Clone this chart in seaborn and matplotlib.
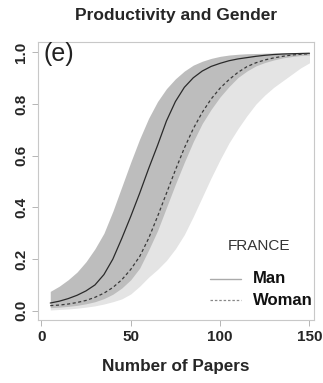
import numpy as np
import pandas as pd
import matplotlib
matplotlib.use("Agg")
import matplotlib.pyplot as plt
import seaborn as sns

# number of papers
papers = [5, 10, 15, 20, 25, 30, 35, 40, 45, 50, 55, 60, 65, 70, 75,
          80, 85, 90, 95, 100, 105, 110, 115, 120, 125, 130, 135, 140, 145, 150]

# estimated probability, men (solid) with band
man = [0.03, 0.037, 0.047, 0.06, 0.077, 0.10, 0.14, 0.2, 0.28, 0.365,
       0.455, 0.55, 0.64, 0.735, 0.81, 0.865, 0.902, 0.928, 0.946, 0.958,
       0.968, 0.975, 0.98, 0.985, 0.989, 0.992, 0.994, 0.995, 0.996, 0.997]
man_hi = [0.075, 0.095, 0.12, 0.15, 0.19, 0.24, 0.30, 0.385, 0.48, 0.575,
          0.665, 0.745, 0.81, 0.86, 0.898, 0.928, 0.951, 0.966, 0.977, 0.985,
          0.99, 0.993, 0.995, 0.996, 0.997, 0.998, 0.998, 0.999, 0.999, 0.999]
man_lo = [0.012, 0.014, 0.017, 0.021, 0.027, 0.035, 0.047, 0.064, 0.088, 0.12,
          0.165, 0.235, 0.31, 0.40, 0.49, 0.575, 0.655, 0.725, 0.78, 0.828,
          0.868, 0.903, 0.928, 0.948, 0.961, 0.971, 0.979, 0.984, 0.988, 0.99]

# estimated probability, women (dashed) with band
woman = [0.02, 0.022, 0.026, 0.032, 0.04, 0.052, 0.068, 0.09, 0.12, 0.16,
         0.21, 0.28, 0.365, 0.455, 0.545, 0.63, 0.705, 0.768, 0.82, 0.862,
         0.895, 0.923, 0.945, 0.96, 0.971, 0.979, 0.985, 0.99, 0.993, 0.995]
woman_lo = [0.003, 0.005, 0.007, 0.01, 0.014, 0.019, 0.026, 0.035, 0.046, 0.065,
            0.095, 0.13, 0.16, 0.195, 0.24, 0.295, 0.365, 0.44, 0.515, 0.585,
            0.65, 0.705, 0.755, 0.80, 0.835, 0.865, 0.89, 0.915, 0.94, 0.96]
woman_hi = man

df = pd.DataFrame({"papers": papers, "Man": man, "Woman": woman})

sns.set_style("ticks")
plt.rcParams['font.family'] = ['Liberation Sans', 'DejaVu Sans']

fig = plt.figure(figsize=(3.23, 3.83), dpi=100)
ax = fig.add_axes([0.118, 0.165, 0.854, 0.725])

ax.fill_between(papers, woman_lo, woman_hi, color="#e4e4e4", linewidth=0)
ax.fill_between(papers, man_lo, man_hi, color="#bdbdbd", linewidth=0)
sns.lineplot(data=df, x="papers", y="Man", ax=ax, color="#2a2a2a", linewidth=0.9)
sns.lineplot(data=df, x="papers", y="Woman", ax=ax, color="#3a3a3a",
             linewidth=0.9, linestyle=(0, (2.5, 2)))

ax.set_xlim(-1.8, 152.5)
ax.set_ylim(-0.035, 1.04)
ax.set_xticks([0, 50, 100, 150])
ax.set_yticks([0.0, 0.2, 0.4, 0.6, 0.8, 1.0])
ax.set_yticklabels(["0.0", "0.2", "0.4", "0.6", "0.8", "1.0"],
                   rotation=90, va="center")
for lab in ax.get_xticklabels() + ax.get_yticklabels():
    lab.set_fontweight("bold")
    lab.set_fontsize(11)
ax.tick_params(axis="both", length=4, width=0.6, color="#aaaaaa", pad=3)
for s in ax.spines.values():
    s.set_color("#c8c8c8")
    s.set_linewidth(0.8)

ax.set_xlabel("Number of Papers", fontsize=12.3, fontweight="bold", labelpad=11)
ax.set_ylabel("")
ax.set_title("Productivity and Gender", fontsize=12.5, fontweight="bold", pad=16)

ax.text(1.0, 1.04, "(e)", fontsize=18, va="top", ha="left", color="#222222")

# legend drawn as in the original (title + two entries)
ax.text(121.5, 0.25, "FRANCE", fontsize=11, ha="center", va="center", color="#333333")
ax.plot([94.5, 111.5], [0.123, 0.123], color="#aaaaaa", linewidth=1.0)
ax.plot([94.5, 111.5], [0.04, 0.04], color="#888888", linewidth=0.9, linestyle=(0, (2, 1.5)))
ax.text(118.5, 0.123, "Man", fontsize=12, fontweight="bold", va="center", color="#111111")
ax.text(118.5, 0.04, "Woman", fontsize=12, fontweight="bold", va="center", color="#111111")

fig.savefig("out.png", dpi=100)
